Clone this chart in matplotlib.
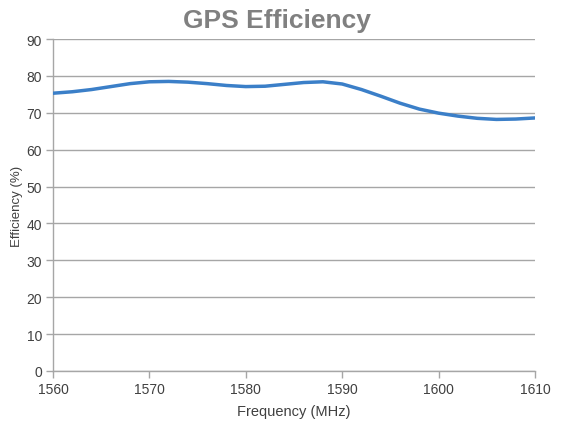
import matplotlib
matplotlib.use("Agg")
import matplotlib.pyplot as plt

freq = [1560, 1562, 1564, 1566, 1568, 1570, 1572, 1574, 1576, 1578, 1580, 1582, 1584,
        1586, 1588, 1590, 1592, 1594, 1596, 1598, 1600, 1602, 1604, 1606, 1608, 1610]
eff = [75.3, 75.7, 76.3, 77.1, 77.9, 78.4, 78.5, 78.3, 77.9, 77.4, 77.1, 77.2, 77.7,
       78.2, 78.4, 77.8, 76.3, 74.5, 72.6, 71.0, 69.9, 69.1, 68.5, 68.2, 68.3, 68.6]
xticks = [1560, 1570, 1580, 1590, 1600, 1610]
yticks = [0, 10, 20, 30, 40, 50, 60, 70, 80, 90]

plt.rcParams['font.family'] = ['Liberation Sans', 'DejaVu Sans']

fig = plt.figure(figsize=(5.71, 4.27), dpi=100)
ax = fig.add_axes([53/571, 1-372/427, (535-53)/571, (372-40)/427])

ax.plot(freq, eff, color='#3b7fc8', lw=2.5, solid_capstyle='round', solid_joinstyle='round', zorder=3)

ax.set_xlim(1560, 1610)
ax.set_ylim(0, 90)
ax.set_xticks(xticks)
ax.set_yticks(yticks)
ax.grid(axis='y', color='#a6a6a6', lw=1.0)
ax.set_axisbelow(True)
for s in ['top', 'right']:
    ax.spines[s].set_visible(False)
for s in ['left', 'bottom']:
    ax.spines[s].set_color('#a6a6a6')
    ax.spines[s].set_linewidth(1.0)
ax.tick_params(axis='both', colors='#a6a6a6', labelcolor='#404040', labelsize=10, length=5, width=1)
ax.tick_params(axis='y', pad=3)
ax.tick_params(axis='x', pad=3)

ax.set_xlabel('Frequency (MHz)', fontsize=10.5, color='#404040', labelpad=6)
ax.set_ylabel('Efficiency (%)', fontsize=9.5, color='#404040', labelpad=2)
fig.text(277/571, 1-21/427, 'GPS Efficiency', ha='center', va='center', fontsize=19,
         fontweight='bold', color='#808080')

fig.savefig('out.png', dpi=100)
